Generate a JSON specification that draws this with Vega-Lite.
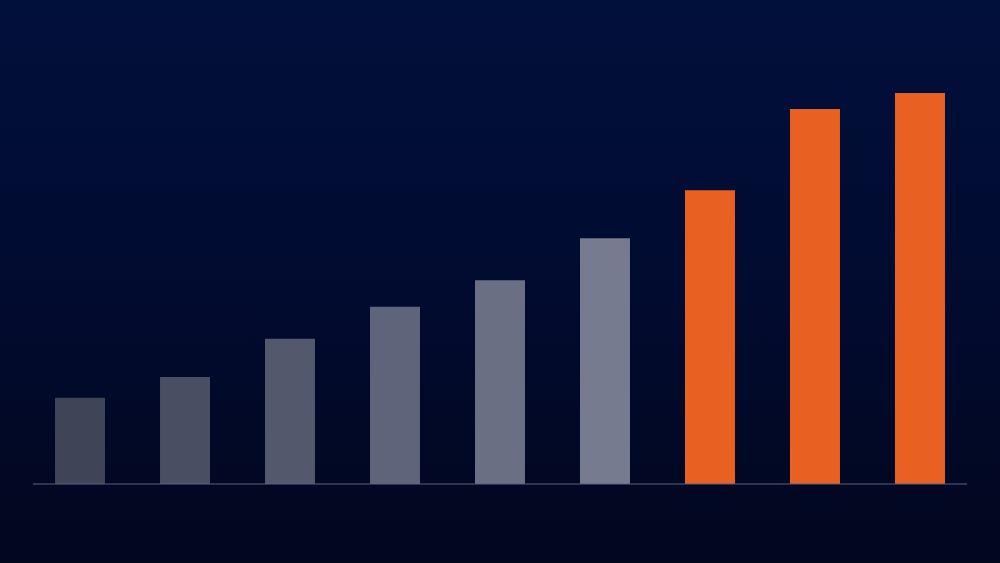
{
  "$schema": "https://vega.github.io/schema/vega-lite/v6.json",
  "description": "Nine bars rising left to right, last three highlighted",
  "width": 1000,
  "height": 563,
  "autosize": {"type": "fit", "contains": "padding"},
  "padding": 0,
  "background": "#020a2c",
  "config": {"view": {"stroke": null}},
  "layer": [
    {
      "data": {"values": [{"bg": 1}]},
      "mark": {
        "type": "rect",
        "fill": {
          "gradient": "linear",
          "x1": 0, "y1": 0, "x2": 0, "y2": 1,
          "stops": [
            {"offset": 0, "color": "#01103b"},
            {"offset": 0.5, "color": "#010b30"},
            {"offset": 1, "color": "#02071e"}
          ]
        }
      },
      "encoding": {}
    },
    {
      "data": {
        "values": [
          {"cat": "c1", "value": 17.8, "shade": "g1"},
          {"cat": "c2", "value": 22.1, "shade": "g2"},
          {"cat": "c3", "value": 30.0, "shade": "g3"},
          {"cat": "c4", "value": 36.6, "shade": "g4"},
          {"cat": "c5", "value": 42.1, "shade": "g5"},
          {"cat": "c6", "value": 50.8, "shade": "g6"},
          {"cat": "c7", "value": 60.7, "shade": "hi"},
          {"cat": "c8", "value": 77.5, "shade": "hi"},
          {"cat": "c9", "value": 80.8, "shade": "hi"}
        ]
      },
      "mark": {"type": "bar"},
      "encoding": {
        "x": {
          "field": "cat",
          "type": "nominal",
          "axis": null,
          "scale": {
            "domain": ["c1", "c2", "c3", "c4", "c5", "c6", "c7", "c8", "c9"],
            "paddingInner": 0.524,
            "paddingOuter": 0.524
          }
        },
        "y": {
          "field": "value",
          "type": "quantitative",
          "axis": null,
          "scale": {"domain": [-16.32, 100], "nice": false, "zero": false}
        },
        "color": {
          "field": "shade",
          "type": "nominal",
          "legend": null,
          "scale": {
            "domain": ["g1", "g2", "g3", "g4", "g5", "g6", "hi"],
            "range": ["#3f4456", "#494e62", "#53586c", "#5e6479", "#6a6f83", "#767b8f", "#e96023"]
          }
        }
      }
    },
    {
      "data": {"values": [{"from": "c1", "to": "c9", "base": 0}]},
      "mark": {"type": "rule", "color": "#5a6078", "strokeWidth": 1.2},
      "encoding": {
        "x": {"field": "from", "type": "nominal", "bandPosition": -0.44},
        "x2": {"field": "to", "bandPosition": 1.44},
        "y": {"field": "base", "type": "quantitative"}
      }
    }
  ]
}
